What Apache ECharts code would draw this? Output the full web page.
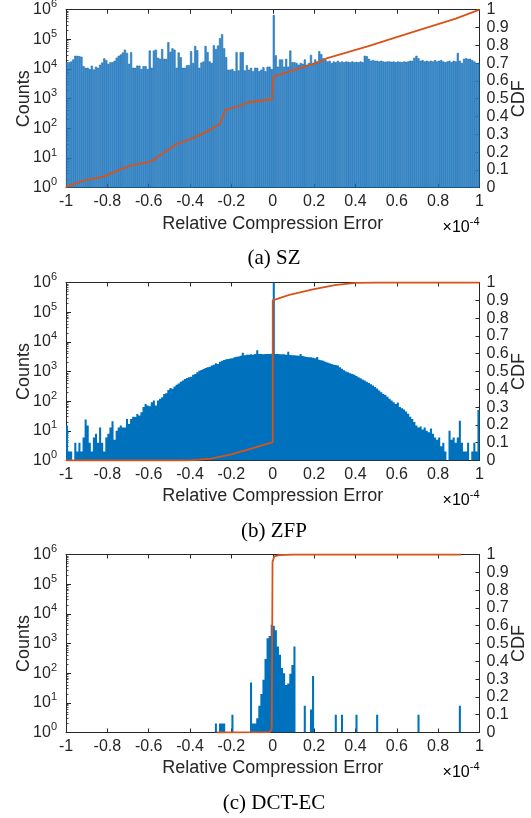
<!DOCTYPE html>
<html>
<head>
<meta charset="utf-8">
<script src="https://cdn.jsdelivr.net/npm/echarts@6/dist/echarts.min.js"></script>
<style>
  html, body { margin: 0; padding: 0; background: #ffffff; }
  #chart { width: 531px; height: 818px; }
</style>
</head>
<body>
<div id="chart"></div>
<script>
// Histogram bins: 200 bins of width 0.01 (x 1e-4) spanning [-1, 1]
const binCount = 200;
const binLabels = Array.from({ length: binCount }, (_, i) => (-1 + i * 0.01).toFixed(2));

// SZ error counts per bin
const szCounts = [
  1.7e4,1.7e4,1.8e4,2.1e4,2.8e4,2.8e4,2.7e4,2.6e4,1.25e4,1.1e4,
  1.1e4,1.0e4,1.3e4,9.7e3,1.2e4,1.1e4,1.4e4,1.65e4,2.3e4,2.0e4,
  1.5e4,1.7e4,1.7e4,1.9e4,2.4e4,2.8e4,3.1e4,3.6e4,4.5e4,3.5e4,
  1.5e4,3.7e4,1.1e4,1.1e4,1.3e4,1.3e4,1.0e4,1.25e4,1.25e4,1.0e4,
  4.2e4,1.1e4,4.2e4,4.5e4,2.4e4,2.2e4,4.7e4,2.2e4,2.2e4,8.0e4,
  3.8e4,5.0e4,4.5e4,1.1e4,3.6e4,2.5e4,1.1e4,1.1e4,1.35e4,1.35e4,
  4.0e4,1.6e4,6.0e4,4.3e4,1.1e4,1.65e4,1.8e4,6.0e4,3.7e4,1.8e4,
  1.6e4,6.3e4,4.7e4,6.2e4,1.1e5,1.5e5,5.0e4,2.5e4,9.5e3,9.5e3,
  1.0e4,8.5e3,3.7e4,9.0e3,3.7e4,3.7e4,9.0e3,1.35e4,9.5e3,1.1e4,
  8.5e3,1.1e4,1.1e4,8.5e3,9.5e3,1.15e4,8.5e3,1.2e4,1.2e4,1.0e4,
  6.6e5,2.9e4,1.2e4,2.1e4,2.1e4,1.2e4,2.2e4,1.2e4,4.2e4,1.7e4,
  1.7e4,1.6e4,1.4e4,1.6e4,1.5e4,2.1e4,1.4e4,1.6e4,3.0e4,1.6e4,
  2.1e4,1.8e4,4.0e4,3.2e4,2.3e4,2.1e4,1.8e4,1.9e4,1.6e4,1.8e4,
  1.7e4,1.9e4,1.7e4,1.8e4,1.7e4,1.8e4,1.75e4,1.7e4,1.8e4,1.7e4,
  1.75e4,1.7e4,1.8e4,1.7e4,2.8e4,2.7e4,2.2e4,1.9e4,2.0e4,1.9e4,
  1.9e4,1.8e4,1.9e4,1.8e4,1.75e4,1.8e4,1.8e4,1.75e4,1.8e4,1.7e4,
  1.8e4,1.75e4,1.7e4,1.8e4,1.75e4,1.8e4,1.9e4,1.9e4,2.4e4,2.8e4,
  2.3e4,1.9e4,2.0e4,1.8e4,1.9e4,1.8e4,1.9e4,1.8e4,2.0e4,1.8e4,
  1.9e4,2.0e4,1.8e4,1.7e4,1.8e4,1.9e4,1.7e4,1.9e4,1.8e4,3.5e4,
  1.9e4,1.6e4,2.2e4,2.3e4,2.2e4,2.2e4,2.0e4,1.8e4,1.6e4,1.6e4
];

// ZFP error counts per bin
const zfpCounts = [
  15,2,2,0,4,2,4,2,6,24,
  15,4,2,6,8,4,13,4,2,6,
  8,13,21,5,10,13,15,13,13,25,
  17,25,30,29,37,33,42,63,81,72,
  67,92,105,72,105,120,136,176,185,240,
  280,260,310,355,395,455,500,560,600,640,
  670,780,830,940,1070,1120,1220,1300,1390,1450,
  1580,1700,1900,1800,2150,2300,2450,2600,2650,2750,
  2800,3000,3150,3200,3400,4300,3500,3700,3700,3800,
  3700,3900,5200,3900,3900,3800,3900,3900,3900,3950,
  1e6,3900,3900,3850,3850,3800,3700,4600,3600,3550,
  3500,3450,3400,3900,3300,3200,3100,3000,3000,2900,
  2800,3100,2500,2400,2300,2150,2000,1900,1800,1700,
  1650,1580,1400,1250,1100,1000,940,880,830,780,
  700,640,590,540,495,450,410,370,335,300,
  265,230,200,176,160,140,120,105,92,80,
  90,63,58,52,45,38,30,25,20,15,
  13,14,11,13,10,9,12,8,6,5,
  6,3,4,2,0,10,5,6,4,6,
  22,4,2,2,4,0,2,4,2,50
];

// DCT-EC error counts per bin
const dctCounts = [
  0,0,0,0,0,0,0,0,0,0,
  0,0,0,0,0,0,0,0,0,0,
  0,0,0,0,0,0,0,0,0,0,
  0,0,0,0,0,0,0,0,0,0,
  0,0,0,0,0,0,0,0,0,0,
  0,0,0,0,0,0,0,0,0,0,
  0,0,0,0,0,0,0,0,0,0,
  0,0,2,0,2,2,2,0,0,0,
  4,0,0,0,0,0,0,0,0,48,
  2,2,3,8,20,60,300,1500,1800,4300,
  4000,2800,800,420,150,100,40,45,95,190,
  790,1,0,0,0,8,0,0,6,80,
  0,0,0,0,0,0,0,0,0,0,
  4,0,0,4,0,0,0,0,0,0,
  4,0,0,0,0,0,0,0,0,0,
  4,0,0,0,0,0,0,0,0,0,
  0,0,0,0,0,0,0,0,0,0,
  4,0,0,0,0,0,0,0,0,0,
  0,0,0,0,0,0,0,0,0,0,
  8,0,0,0,0,0,0,0,0,0
];

// Cumulative distribution curves: [relative error (x 1e-4), CDF]
const szCdf = [
  [-1, 0.005], [-0.92, 0.038], [-0.82, 0.062], [-0.69, 0.124], [-0.59, 0.146],
  [-0.465, 0.245], [-0.41, 0.268], [-0.37, 0.287], [-0.32, 0.315], [-0.256, 0.358],
  [-0.229, 0.437], [-0.159, 0.459], [-0.119, 0.48], [-0.003, 0.497], [0.003, 0.624],
  [0.085, 0.655], [0.23, 0.708], [0.26, 0.727], [0.455, 0.792], [0.68, 0.876],
  [0.885, 0.95], [1, 1]
];
const zfpCdf = [
  [-1, 0], [-0.45, 0], [-0.4, 0.001], [-0.3, 0.011], [-0.2, 0.034], [-0.1, 0.068],
  [0, 0.103], [0, 0.9], [0.08, 0.93], [0.2, 0.963], [0.3, 0.985], [0.4, 0.998],
  [0.5, 1], [1, 1]
];
const dctCdf = [
  [-0.27, 0], [-0.015, 0.002], [-0.005, 0.02], [-0.001, 0.96], [0.008, 0.99],
  [0.03, 0.997], [0.1, 1], [0.91, 1]
];

// Axis ticks
const countTicks = [1, 10, 100, 1e3, 1e4, 1e5, 1e6];
const countMinorTicks = [];
for (let e = 0; e < 6; e++) {
  for (let m = 2; m <= 9; m++) countMinorTicks.push(m * Math.pow(10, e));
}

const panels = [
  { counts: szCounts, cdf: szCdf, caption: '(a) SZ', top: 9.7, large: false,
    bar: { color: '#3d8fd1', borderColor: '#0d63a8', borderWidth: 0.5 } },
  { counts: zfpCounts, cdf: zfpCdf, caption: '(b) ZFP', top: 282.5, large: true,
    bar: { color: '#0072BD' } },
  { counts: dctCounts, cdf: dctCdf, caption: '(c) DCT-EC', top: 554.5, large: true,
    bar: { color: '#0072BD' } }
];

const INK = '#262626';
const SANS = '"Liberation Sans", Arial, Helvetica, sans-serif';
const SERIF = '"Liberation Serif", "Times New Roman", serif';
const GRID_LEFT = 66, GRID_W = 413.5, GRID_H = 178;

const lineStyle = { color: INK, width: 1 };
const supRich = {
  b: { fontSize: 16, fontFamily: SANS, color: INK, lineHeight: 16, verticalAlign: 'bottom' },
  s: { fontSize: 11, fontFamily: SANS, color: INK, lineHeight: 11, verticalAlign: 'bottom', padding: [0, 0, 8, 0] }
};

const grids = [], xAxes = [], yAxes = [], series = [], graphics = [];

panels.forEach((p, g) => {
  grids.push({ left: GRID_LEFT, top: p.top, width: GRID_W, height: GRID_H, outerBoundsMode: 'none' });

  // bins
  xAxes.push({ type: 'category', gridIndex: g, data: binLabels, show: false, boundaryGap: true });
  // bottom value axis with labels
  xAxes.push({
    type: 'value', gridIndex: g, min: -1, max: 1, interval: 0.2, position: 'bottom',
    axisLine: { show: true, onZero: false, lineStyle },
    axisTick: { show: true, inside: true, length: 4, lineStyle },
    splitLine: { show: false },
    axisLabel: { show: true, color: INK, fontSize: 16, fontFamily: SANS, margin: 6,
      formatter: v => String(Math.round(v * 10) / 10) },
    name: 'Relative Compression Error', nameLocation: 'middle', nameGap: 27,
    nameMoveOverlap: false,
    nameTextStyle: { color: INK, fontSize: 18, fontFamily: SANS }
  });
  // top box edge with ticks
  xAxes.push({
    type: 'value', gridIndex: g, min: -1, max: 1, interval: 0.2, position: 'top',
    axisLine: { show: true, onZero: false, lineStyle },
    axisTick: { show: true, inside: true, length: 4, lineStyle },
    splitLine: { show: false }, axisLabel: { show: false }
  });

  // counts (log)
  yAxes.push({
    type: 'log', logBase: 10, gridIndex: g, min: 1, max: 1e6, position: 'left',
    axisLine: { show: true, onZero: false, lineStyle },
    axisTick: { show: true, inside: true, length: 5, lineStyle, customValues: countTicks },
    splitLine: { show: false },
    axisLabel: { show: true, margin: 9, customValues: countTicks, rich: supRich,
      formatter: v => '{b|10}{s|' + Math.round(Math.log10(v)) + '}' },
    name: 'Counts', nameLocation: 'middle', nameGap: 33, nameRotate: 90,
    nameMoveOverlap: false,
    nameTextStyle: { color: INK, fontSize: 18, fontFamily: SANS }
  });
  // minor log ticks
  yAxes.push({
    type: 'log', logBase: 10, gridIndex: g, min: 1, max: 1e6, position: 'left',
    axisLine: { show: false, onZero: false },
    axisTick: { show: true, inside: true, length: 2.5, lineStyle: { color: INK, width: 0.8 },
      customValues: countMinorTicks },
    splitLine: { show: false }, axisLabel: { show: false }
  });
  // CDF
  yAxes.push({
    type: 'value', gridIndex: g, min: 0, max: 1, interval: 0.1, position: 'right',
    axisLine: { show: true, onZero: false, lineStyle },
    axisTick: { show: true, inside: true, length: 4, lineStyle },
    splitLine: { show: false },
    axisLabel: { show: true, color: INK, fontSize: 16, fontFamily: SANS, margin: 7,
      formatter: v => String(Math.round(v * 10) / 10) },
    name: 'CDF', nameLocation: 'middle', nameGap: 31, nameRotate: 90,
    nameMoveOverlap: false,
    nameTextStyle: { color: INK, fontSize: 18, fontFamily: SANS }
  });

  series.push({
    type: 'bar', xAxisIndex: 3 * g, yAxisIndex: 3 * g,
    data: p.counts.map(c => (c > 0 ? c : '-')),
    barCategoryGap: '0%', barGap: '0%',
    large: p.large, largeThreshold: 50,
    itemStyle: p.bar, silent: true, z: 2
  });
  series.push({
    type: 'line', xAxisIndex: 3 * g + 1, yAxisIndex: 3 * g + 2,
    data: p.cdf, showSymbol: false, symbol: 'none',
    lineStyle: { color: '#D95319', width: 1.8 }, silent: true, z: 5
  });

  const bottom = p.top + GRID_H;
  graphics.push({
    type: 'text', x: GRID_LEFT + GRID_W, y: bottom + 40,
    style: {
      text: '{b|\u00d710}{s|-4}', align: 'right', verticalAlign: 'middle', rich: supRich
    }
  });
  graphics.push({
    type: 'text', x: 274, y: bottom + 71,
    style: {
      text: p.caption, align: 'center', verticalAlign: 'middle',
      fontSize: 21, fontFamily: SERIF, fill: '#000000'
    }
  });
});

const chart = echarts.init(document.getElementById('chart'), null, { renderer: 'canvas' });
chart.setOption({
  animation: false,
  backgroundColor: '#ffffff',
  grid: grids,
  xAxis: xAxes,
  yAxis: yAxes,
  series: series,
  graphic: graphics
});
</script>
</body>
</html>
